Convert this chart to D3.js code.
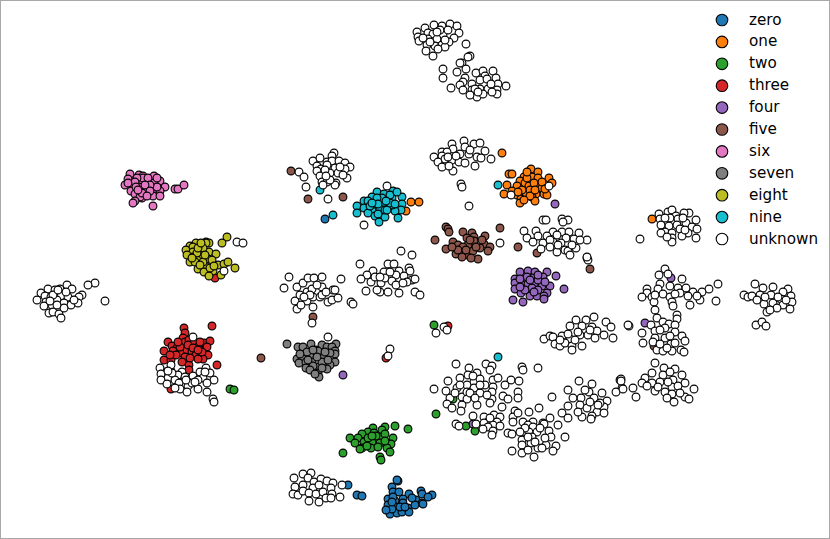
<!DOCTYPE html>
<html><head><meta charset="utf-8">
<script src="https://cdnjs.cloudflare.com/ajax/libs/d3/7.8.5/d3.min.js"></script>
<style>html,body{margin:0;padding:0;background:#fff}svg{display:block}</style></head>
<body><svg id="c" width="830" height="539"></svg>
<script>
const labels=["zero","one","two","three","four","five","six","seven","eight","nine","unknown"];
const colors=["#1f77b4","#ff7f0e","#2ca02c","#d62728","#9467bd","#8c564b","#e377c2","#7f7f7f","#bcbd22","#17becf","#ffffff"];
const zero=[[325,219],[398,481],[397,480],[392,487],[393,492],[399,492],[409,494],[421,491],[422,494],[432,495],[428,497],[388,499],[395,501],[403,499],[416,500],[422,503],[388,505],[396,507],[403,503],[408,508],[415,505],[390,514],[397,513],[402,512],[409,512],[357,495],[362,496],[348,485],[392,509],[423,504],[393,497],[400,507],[412,498],[386,510],[405,507],[392,502]];
const one=[[411,202],[419,202],[406,211],[502,153],[509,174],[512,174],[531,169],[538,172],[524,177],[520,181],[532,177],[538,178],[549,178],[507,185],[517,186],[525,183],[529,186],[538,187],[542,188],[552,183],[504,194],[517,195],[526,195],[536,194],[544,194],[547,195],[521,199],[532,197],[535,201],[520,203],[530,190],[652,219],[527,178],[534,183],[522,190],[530,196],[542,182],[512,191],[527,172],[535,190],[524,200],[545,189],[518,192]];
const two=[[230,389],[234,390],[434,325],[436,414],[466,426],[475,431],[453,399],[395,426],[408,429],[373,428],[368,432],[385,427],[362,434],[350,438],[358,438],[374,433],[382,430],[393,438],[355,443],[364,442],[380,437],[391,444],[372,442],[362,448],[371,448],[360,449],[387,448],[390,452],[343,453],[380,457],[381,460],[380,443],[368,438],[376,436],[385,434],[367,446],[378,447],[385,441],[372,436]];
const three=[[215,278],[184,328],[212,326],[185,333],[183,338],[168,342],[172,346],[177,348],[185,342],[189,340],[194,343],[199,346],[204,343],[210,341],[207,347],[164,351],[173,351],[182,353],[187,350],[192,352],[196,355],[208,355],[203,359],[198,359],[185,357],[164,360],[171,360],[189,365],[182,362],[217,365],[166,372],[171,371],[189,370],[171,389],[177,377],[180,347],[188,345],[200,342],[386,358],[448,326],[178,342],[193,348],[202,352],[176,355],[190,358],[170,355],[198,350]];
const four=[[343,375],[555,204],[520,272],[528,271],[535,272],[547,272],[556,276],[515,279],[543,277],[524,280],[532,278],[515,283],[522,285],[528,284],[535,283],[542,286],[550,286],[515,289],[532,288],[547,293],[564,289],[521,293],[530,296],[537,296],[544,296],[544,299],[513,300],[523,302],[527,277],[538,280],[671,278],[645,323],[473,424],[520,279],[525,290],[538,290],[530,280],[545,282],[538,275],[520,287],[534,292]];
const five=[[261,358],[313,317],[291,171],[308,199],[343,197],[500,228],[446,227],[448,229],[449,232],[435,240],[463,232],[472,233],[474,237],[485,236],[453,242],[458,245],[467,238],[474,241],[484,244],[490,247],[446,249],[468,245],[480,248],[488,251],[456,254],[463,253],[468,255],[473,251],[478,259],[462,257],[518,247],[537,253],[587,258],[590,269],[463,247],[654,346],[470,240],[476,247],[458,250],[466,250],[482,240],[452,247],[471,258]];
const six=[[130,174],[139,175],[143,176],[154,176],[128,179],[141,180],[160,181],[133,184],[147,183],[154,183],[125,185],[139,187],[147,189],[165,187],[131,191],[135,194],[153,190],[160,191],[153,196],[160,196],[142,198],[140,197],[135,201],[133,203],[153,206],[175,189],[178,189],[184,185],[143,178],[148,178],[137,178],[157,187],[142,193],[150,185],[135,182],[128,183],[145,185],[136,187],[150,191],[157,178],[147,196],[138,190]];
const seven=[[287,344],[298,347],[311,344],[322,345],[336,344],[303,352],[316,350],[327,347],[332,347],[335,351],[303,347],[310,356],[318,351],[327,355],[335,354],[297,359],[302,358],[312,362],[323,358],[330,353],[335,362],[299,363],[306,362],[306,368],[318,367],[313,366],[330,365],[327,369],[318,373],[319,377],[307,352],[322,362],[317,357],[308,360],[313,350],[325,352],[310,370],[322,368],[300,354],[328,360],[315,374]];
const eight=[[227,237],[222,243],[206,242],[209,243],[196,243],[190,246],[206,243],[186,250],[193,247],[200,249],[209,252],[193,252],[187,255],[193,257],[199,259],[208,259],[216,254],[190,262],[195,262],[203,255],[198,269],[205,266],[218,265],[224,264],[228,262],[235,268],[204,272],[213,271],[209,276],[221,275],[203,248],[197,253],[203,262],[212,260],[198,248],[192,258],[205,255],[200,265],[210,268],[214,266],[201,243]];
const nine=[[333,215],[320,190],[498,185],[498,357],[377,192],[384,194],[393,191],[372,197],[364,201],[368,201],[357,206],[364,208],[357,213],[372,210],[374,204],[384,203],[392,198],[402,197],[402,204],[401,210],[395,211],[380,209],[392,205],[368,213],[375,216],[379,222],[385,217],[398,218],[385,210],[390,195],[382,198],[387,210],[377,198],[370,206],[378,204],[390,203],[378,214],[395,204],[372,203],[386,201],[397,192]];
const unknownWest=[[95,283],[88,285],[105,301],[67,285],[72,289],[48,289],[55,290],[60,289],[41,293],[82,295],[45,296],[51,297],[61,296],[68,297],[79,297],[37,300],[46,302],[52,305],[57,300],[64,303],[71,305],[78,303],[44,306],[49,313],[53,312],[59,314],[61,318],[64,308],[53,295],[57,305],[50,301],[66,292],[74,300],[58,290],[237,242],[243,243],[224,271],[193,337],[171,365],[160,368],[206,368],[161,374],[210,373],[200,372],[182,372],[178,375],[193,376],[185,377],[168,378],[161,380],[175,380],[203,378],[198,380],[214,380],[207,383],[167,384],[179,383],[188,386],[180,389],[198,389],[207,392],[187,392],[213,399],[214,402],[192,383],[172,373],[195,382],[186,380],[205,372],[175,388],[168,371]];
const unknownCentre=[[299,172],[304,177],[306,187],[328,199],[387,186],[364,225],[334,153],[332,156],[313,161],[320,158],[327,162],[332,161],[339,161],[345,163],[350,167],[317,166],[321,169],[327,165],[335,168],[345,169],[317,171],[320,176],[330,173],[338,173],[347,178],[322,182],[327,182],[336,183],[323,185],[335,185],[340,167],[325,170],[330,180],[343,175],[326,176],[401,251],[412,255],[360,264],[388,264],[394,264],[373,271],[367,275],[384,272],[399,271],[409,268],[410,271],[361,279],[371,282],[375,277],[381,283],[385,278],[396,275],[404,276],[392,281],[412,280],[415,279],[407,282],[366,291],[380,292],[388,292],[399,293],[396,285],[415,292],[420,295],[380,277],[390,272],[403,283],[377,290],[289,277],[284,288],[297,287],[303,283],[308,278],[314,278],[322,277],[341,279],[307,292],[312,289],[322,287],[333,290],[335,290],[307,301],[295,301],[313,297],[320,297],[328,302],[332,300],[338,298],[351,302],[353,304],[297,309],[301,305],[313,307],[310,295],[322,295],[300,295],[317,285],[326,292],[304,297],[312,323],[328,337],[390,349],[388,356]];
const unknownNorth=[[417,32],[425,28],[434,25],[442,26],[450,24],[457,26],[459,33],[418,37],[428,33],[433,34],[443,35],[454,38],[419,41],[428,39],[437,39],[449,42],[427,45],[435,46],[442,45],[445,47],[426,51],[438,49],[433,56],[440,30],[448,30],[430,42],[437,32],[445,40],[423,38],[466,44],[470,56],[468,57],[462,63],[460,63],[466,69],[443,69],[457,72],[443,78],[451,88],[476,73],[483,71],[493,71],[485,76],[496,78],[465,78],[463,82],[460,85],[472,84],[480,80],[487,79],[498,84],[506,86],[463,90],[472,90],[480,89],[488,89],[497,90],[477,97],[483,94],[497,94],[475,89],[491,84],[478,92],[470,95],[492,92],[464,141],[452,144],[474,144],[480,143],[465,147],[442,152],[453,149],[447,152],[485,151],[434,157],[442,156],[445,159],[452,160],[460,154],[469,154],[477,157],[481,158],[491,159],[438,162],[459,162],[465,163],[442,167],[453,171],[475,166],[448,157],[456,156],[470,150],[449,166],[461,184],[462,187],[469,206],[511,195],[549,186],[500,243],[543,220],[546,220],[562,219],[568,220],[563,222],[524,231],[536,231],[553,232],[562,232],[569,232],[579,233],[527,238],[538,236],[547,236],[557,235],[566,238],[574,239],[587,240],[533,242],[543,243],[553,242],[561,243],[541,249],[557,252],[565,250],[576,248],[568,251],[570,255],[588,260],[587,257],[550,240],[558,245],[572,245],[550,247],[580,240]];
const unknownEast=[[659,214],[668,212],[672,210],[689,213],[684,213],[676,216],[696,220],[660,219],[670,218],[678,219],[686,223],[661,225],[669,226],[677,225],[692,227],[697,229],[665,232],[661,233],[672,233],[680,229],[688,233],[682,236],[696,238],[672,238],[672,242],[640,239],[665,218],[683,218],[685,230],[667,237],[665,269],[659,275],[668,274],[682,279],[718,284],[709,289],[660,284],[647,289],[658,289],[670,286],[678,288],[686,288],[693,292],[702,292],[647,293],[642,297],[652,297],[663,294],[680,293],[670,297],[700,300],[716,301],[654,302],[672,302],[673,306],[690,305],[688,296],[675,294],[655,295],[697,296],[655,310],[677,315],[657,318],[663,322],[677,319],[629,326],[651,325],[669,324],[675,325],[665,328],[642,333],[655,331],[675,332],[682,336],[655,338],[665,338],[685,341],[643,343],[653,342],[671,344],[675,343],[657,350],[663,351],[672,351],[681,350],[684,352],[660,330],[670,336],[660,344],[667,348],[755,284],[744,295],[748,297],[752,296],[763,288],[773,287],[788,289],[783,292],[760,295],[771,295],[791,296],[781,299],[757,300],[792,302],[764,304],[773,303],[783,305],[790,309],[767,312],[777,308],[756,325],[762,322],[766,326],[765,297],[778,297],[770,310],[786,300],[655,363],[664,368],[675,369],[652,373],[682,375],[645,378],[663,375],[670,372],[642,383],[660,382],[652,383],[673,380],[685,383],[633,388],[647,386],[672,387],[678,386],[694,389],[636,397],[655,391],[665,392],[672,394],[685,397],[689,399],[674,402],[620,380],[622,388],[668,382],[658,387],[680,393],[667,398]];
const unknownSouth=[[444,327],[447,330],[436,333],[456,364],[486,364],[492,366],[469,368],[490,370],[477,373],[468,375],[460,378],[448,381],[474,382],[480,379],[493,380],[498,378],[511,380],[519,381],[505,385],[434,389],[457,388],[467,385],[474,388],[485,385],[493,387],[446,391],[462,397],[467,392],[480,393],[492,392],[518,392],[503,396],[518,398],[508,399],[450,398],[467,399],[492,399],[447,404],[452,408],[462,405],[477,405],[490,403],[502,407],[461,411],[522,367],[523,370],[538,368],[473,376],[480,385],[470,393],[460,385],[487,395],[455,393],[475,398],[473,416],[484,417],[494,415],[500,417],[488,422],[497,422],[456,424],[459,426],[476,424],[484,423],[493,425],[500,426],[488,427],[493,431],[492,435],[490,418],[483,429],[515,411],[529,412],[539,408],[513,417],[518,413],[523,422],[533,422],[513,422],[550,418],[543,423],[558,425],[528,425],[533,427],[523,432],[508,433],[512,434],[529,432],[537,432],[549,431],[544,424],[532,437],[522,440],[551,437],[565,437],[531,443],[522,445],[546,445],[556,446],[538,448],[512,451],[522,453],[528,450],[542,448],[553,451],[534,457],[525,428],[540,428],[535,442],[545,438],[528,437],[520,432],[579,381],[592,384],[568,390],[589,392],[602,393],[581,398],[594,398],[607,401],[568,406],[580,405],[587,408],[597,412],[604,407],[562,413],[568,418],[582,417],[592,416],[604,413],[591,419],[573,398],[600,403],[552,397],[585,390],[598,405],[578,412],[590,402],[621,379],[621,381],[616,392],[623,389],[594,317],[586,320],[576,320],[570,326],[582,326],[592,327],[606,322],[611,327],[628,325],[544,339],[550,336],[553,337],[562,336],[570,339],[580,335],[588,335],[597,331],[604,335],[613,338],[595,338],[555,344],[560,346],[565,343],[572,346],[572,350],[582,346],[578,332],[590,330],[568,334],[560,340],[575,340],[311,473],[303,474],[294,478],[308,478],[314,482],[321,479],[327,481],[333,483],[342,485],[295,487],[303,485],[313,488],[319,485],[331,488],[293,494],[298,495],[303,491],[309,493],[316,494],[323,492],[332,494],[309,501],[319,502],[326,498],[340,497],[331,498]];
const unknown=[...unknownWest,...unknownCentre,...unknownNorth,...unknownEast,...unknownSouth];
const series=[zero,one,two,three,four,five,six,seven,eight,nine,unknown];

const W=830,H=539;
const x=d3.scaleLinear().domain([0,830]).range([0,W]);
const y=d3.scaleLinear().domain([0,539]).range([0,H]);
const svg=d3.select("#c");
svg.append("rect").attr("x",.5).attr("y",.5).attr("width",W-1).attr("height",H-1).attr("fill","#fff").attr("stroke","#a8a8a8").attr("stroke-width",1);
series.forEach((pts,i)=>{
  svg.append("g").selectAll("circle").data(pts).join("circle")
    .attr("cx",d=>x(d[0])).attr("cy",d=>y(d[1])).attr("r",3.9)
    .attr("fill",colors[i]).attr("stroke","#000").attr("stroke-width",1.1);
});
const ly=d3.scalePoint().domain(labels).range([20,239]);
const lg=svg.append("g").selectAll("g").data(labels).join("g").attr("transform",d=>`translate(722,${ly(d)})`);
lg.append("circle").attr("r",5.8).attr("fill",(d,i)=>colors[i]).attr("stroke","#000").attr("stroke-width",1.1);
lg.append("text").attr("x",27).attr("y",4.5).attr("font-family","DejaVu Sans").attr("font-size",15.2).attr("fill","#000").text(d=>d);
</script></body></html>
